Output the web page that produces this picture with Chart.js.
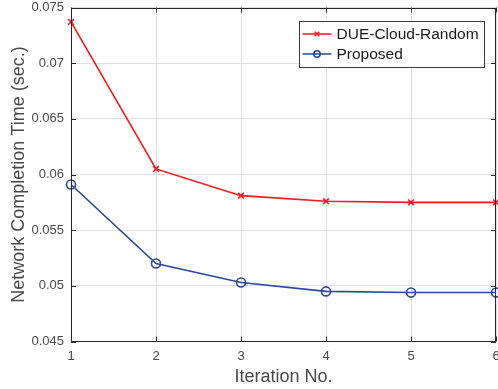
<!DOCTYPE html>
<html>
<head>
<meta charset="utf-8">
<script src="https://cdn.jsdelivr.net/npm/chart.js@4.4.1/dist/chart.umd.min.js"></script>
<style>
  html, body { margin: 0; padding: 0; background: #ffffff; }
  #wrap { width: 498px; height: 389px; position: relative; }
</style>
</head>
<body>
<div id="wrap"><canvas id="c" width="498" height="389"></canvas></div>
<script>
// ---- data ----
const iterations = [1, 2, 3, 4, 5, 6];
const dueCloudRandom = [0.0737, 0.0605, 0.0581, 0.0576, 0.0575, 0.0575];
const proposed = [0.0591, 0.0520, 0.0503, 0.0495, 0.0494, 0.0494];
const seriesLabels = ['DUE-Cloud-Random', 'Proposed'];
const xTicks = [1, 2, 3, 4, 5, 6];
const yTicks = [0.045, 0.05, 0.055, 0.06, 0.065, 0.07, 0.075];
const xTitle = 'Iteration No.';
const yTitle = 'Network Completion Time (sec.)';

const RED = 'rgb(250,22,28)';
const BLUE = 'rgb(44,72,158)';
const AXIS = '#262626';
const GRID = '#e2e2e2';
const TXT = '#4a4a4a';
const FONT = '"Liberation Sans", Arial, Helvetica, sans-serif';

const toPts = (arr) => arr.map((v, i) => ({ x: iterations[i], y: v }));

const boxPlugin = {
  id: 'boxPlugin',
  afterDatasetsDraw(chart) {
    const { ctx, chartArea: a, scales } = chart;
    ctx.save();
    ctx.strokeStyle = AXIS;
    ctx.lineWidth = 1;
    ctx.beginPath();
    ctx.rect(Math.round(a.left) + 0.5, Math.round(a.top) + 0.5,
             Math.round(a.right) - Math.round(a.left) - 1, Math.round(a.bottom) - Math.round(a.top) - 1);
    ctx.stroke();
    const tl = 5;
    ctx.beginPath();
    scales.x.ticks.forEach(t => {
      const px = Math.round(scales.x.getPixelForValue(t.value)) + 0.5;
      ctx.moveTo(px, a.bottom); ctx.lineTo(px, a.bottom - tl);
      ctx.moveTo(px, a.top); ctx.lineTo(px, a.top + tl);
    });
    scales.y.ticks.forEach(t => {
      const py = Math.round(scales.y.getPixelForValue(t.value)) + 0.5;
      ctx.moveTo(a.left, py); ctx.lineTo(a.left + tl, py);
      ctx.moveTo(a.right, py); ctx.lineTo(a.right - tl, py);
    });
    ctx.stroke();
    ctx.restore();
  },
  afterDraw(chart) {
    // legend drawn inside the axes, MATLAB-style
    const { ctx, chartArea: a } = chart;
    const w = 185, h = 46;
    const x0 = Math.round(a.right - 12 - w) + 0.5;
    const y0 = Math.round(a.top + 13.5) + 0.5;
    ctx.save();
    ctx.fillStyle = '#ffffff';
    ctx.fillRect(x0, y0, w, h);
    ctx.strokeStyle = '#3a3a3a';
    ctx.lineWidth = 1;
    ctx.strokeRect(x0, y0, w, h);
    ctx.font = '15.5px ' + FONT;
    ctx.textBaseline = 'middle';
    chart.data.datasets.forEach((ds, i) => {
      const yy = y0 + 12.5 + i * 20;
      const lx0 = x0 + 3, lx1 = x0 + 32;
      ctx.strokeStyle = ds.borderColor;
      ctx.lineWidth = 1.5;
      ctx.beginPath(); ctx.moveTo(lx0, yy); ctx.lineTo(lx1, yy); ctx.stroke();
      const cx = (lx0 + lx1) / 2;
      if (ds.pointStyle === 'crossRot') {
        const r = 2.3;
        ctx.beginPath();
        ctx.moveTo(cx - r, yy - r); ctx.lineTo(cx + r, yy + r);
        ctx.moveTo(cx - r, yy + r); ctx.lineTo(cx + r, yy - r);
        ctx.stroke();
      } else {
        ctx.beginPath(); ctx.arc(cx, yy, 3.2, 0, Math.PI * 2); ctx.stroke();
      }
      ctx.fillStyle = '#1a1a1a';
      ctx.fillText(ds.label, x0 + 37, yy + 0.5);
    });
    ctx.restore();
  }
};

new Chart(document.getElementById('c'), {
  type: 'line',
  data: {
    datasets: [
      {
        label: seriesLabels[0],
        data: toPts(dueCloudRandom),
        borderColor: RED, backgroundColor: RED,
        borderWidth: 1.6,
        pointStyle: 'crossRot', pointRadius: 4, pointBorderWidth: 1.6,
        pointBorderColor: RED, pointBackgroundColor: RED,
        tension: 0, clip: false
      },
      {
        label: seriesLabels[1],
        data: toPts(proposed),
        borderColor: BLUE, backgroundColor: 'rgba(0,0,0,0)',
        borderWidth: 1.6,
        pointStyle: 'circle', pointRadius: 4.5, pointBorderWidth: 1.6,
        pointBorderColor: BLUE, pointBackgroundColor: 'rgba(0,0,0,0)',
        tension: 0, clip: false
      }
    ]
  },
  options: {
    responsive: false,
    animation: false,
    events: [],
    layout: { autoPadding: false, padding: { left: 0, right: 2, top: 7.5, bottom: 0 } },
    plugins: { legend: { display: false }, tooltip: { enabled: false } },
    scales: {
      x: {
        type: 'linear', min: 1, max: 6,
        afterBuildTicks: (s) => { s.ticks = xTicks.map(v => ({ value: v })); },
        afterFit: (s) => { s.height = 47.5; s.paddingLeft = 0; s.paddingRight = 0; },
        border: { display: false },
        grid: { color: GRID, lineWidth: 1, drawTicks: false },
        ticks: { color: TXT, font: { family: FONT, size: 13 }, padding: 7, maxRotation: 0,
                 callback: (v) => String(v) },
        title: { display: true, text: xTitle, color: TXT, font: { family: FONT, size: 18, lineHeight: 1.2 },
                 padding: { top: 0, bottom: 1 } }
      },
      y: {
        type: 'linear', min: 0.045, max: 0.075,
        afterBuildTicks: (s) => { s.ticks = yTicks.map(v => ({ value: v })); },
        afterFit: (s) => { s.width = 71; s.paddingTop = 0; s.paddingBottom = 0; },
        border: { display: false },
        grid: { color: GRID, lineWidth: 1, drawTicks: false },
        ticks: { color: TXT, font: { family: FONT, size: 13 }, padding: 7,
                 callback: (v) => String(Number(v.toFixed(3))) },
        title: { display: true, text: yTitle, color: TXT, font: { family: FONT, size: 18, lineHeight: 1.2 },
                 padding: { top: 8, bottom: 0 } }
      }
    }
  },
  plugins: [boxPlugin]
});
</script>
</body>
</html>
